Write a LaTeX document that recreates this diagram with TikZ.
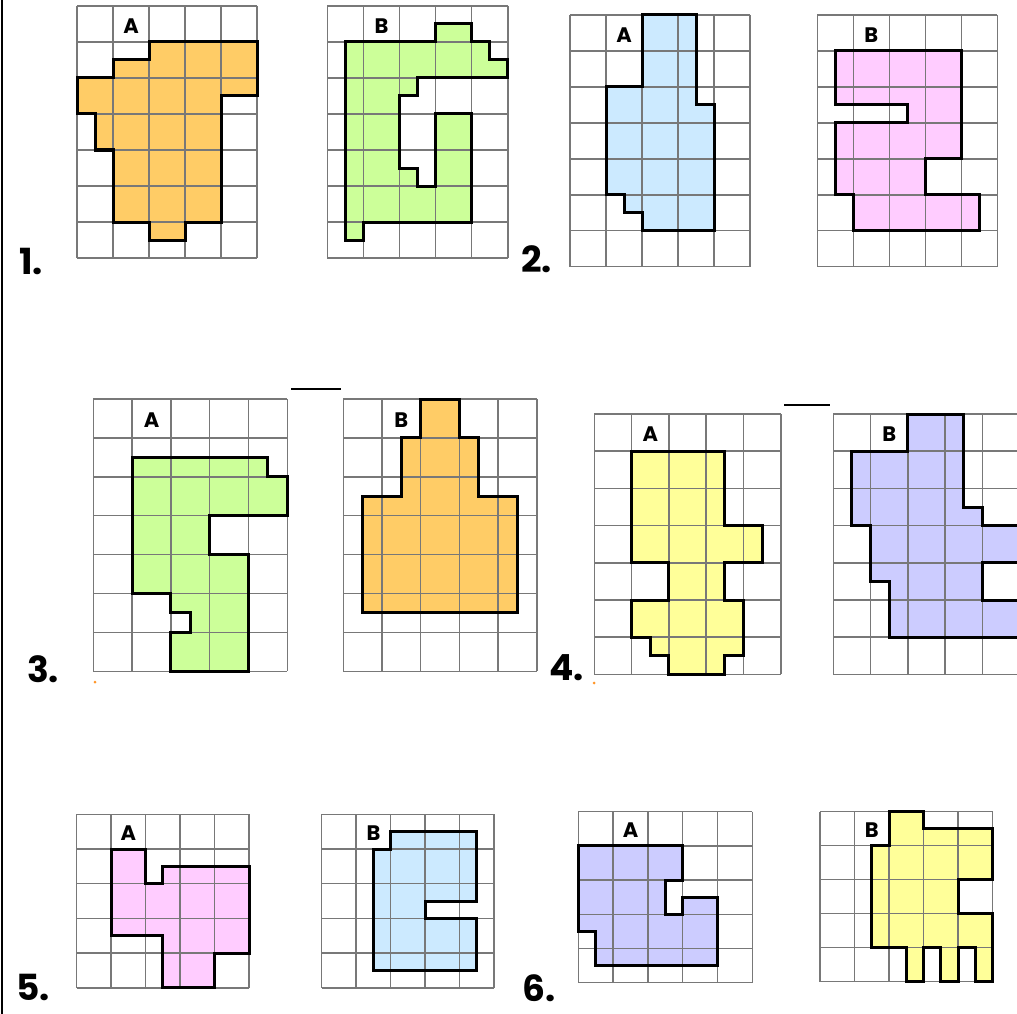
\documentclass[tikz,border=0pt]{standalone}
\usepackage{fontspec}
\setmainfont{Poppins}
\definecolor{corange}{RGB}{255,204,102}
\definecolor{cgreen}{RGB}{204,255,153}
\definecolor{cblue}{RGB}{204,234,255}
\definecolor{cpink}{RGB}{255,204,255}
\definecolor{clav}{RGB}{204,204,255}
\definecolor{cyellow}{RGB}{255,255,153}
\definecolor{cgrid}{RGB}{120,120,120}
\definecolor{cdot}{RGB}{255,150,40}
\tikzset{
  gridl/.style={draw=cgrid,line width=1.5pt},
  outl/.style={draw=black,line width=3pt,line join=miter},
  lab/.style={font=\bfseries\fontsize{21}{21}\selectfont,inner sep=0pt},
  num/.style={font=\bfseries\fontsize{36}{36}\selectfont,inner sep=0pt},
  tick/.style={draw=black,line width=2pt}
}
\begin{document}
\begin{tikzpicture}[x=1pt,y=-1pt]
\useasboundingbox (0,0) rectangle (1017,1014);
\clip (0,0) rectangle (1017,1014);
\fill[white] (0,0) rectangle (1017,1014);
\draw[black,line width=2pt] (1.5,0) -- (1.5,1014);
% 1A
\begin{scope}[shift={(77,6)},x=36pt,y=-36pt]
\fill[corange] (2,1) -- (5,1) -- (5,2.5) -- (4,2.5) -- (4,6) -- (3,6) -- (3,6.5) -- (2,6.5) -- (2,6) -- (1,6) -- (1,4) -- (0.5,4) -- (0.5,3) -- (0,3) -- (0,2) -- (1,2) -- (1,1.5) -- (2,1.5) -- cycle;
\foreach \i in {0,...,5} \draw[gridl] (\i,0) -- (\i,7);
\foreach \j in {0,...,7} \draw[gridl] (0,\j) -- (5,\j);
\draw[outl] (2,1) -- (5,1) -- (5,2.5) -- (4,2.5) -- (4,6) -- (3,6) -- (3,6.5) -- (2,6.5) -- (2,6) -- (1,6) -- (1,4) -- (0.5,4) -- (0.5,3) -- (0,3) -- (0,2) -- (1,2) -- (1,1.5) -- (2,1.5) -- cycle;
\node[lab] (la1) at (1.5,0.55) {A};
\end{scope}
% 1B
\begin{scope}[shift={(327.3,6)},x=36.1pt,y=-36pt]
\fill[cgreen] (0.5,1) -- (3,1) -- (3,0.5) -- (4,0.5) -- (4,1) -- (4.5,1) -- (4.5,1.5) -- (5,1.5) -- (5,2) -- (2.5,2) -- (2.5,2.5) -- (2,2.5) -- (2,4.5) -- (2.5,4.5) -- (2.5,5) -- (3,5) -- (3,3) -- (4,3) -- (4,6) -- (1,6) -- (1,6.5) -- (0.5,6.5) -- cycle;
\foreach \i in {0,...,5} \draw[gridl] (\i,0) -- (\i,7);
\foreach \j in {0,...,7} \draw[gridl] (0,\j) -- (5,\j);
\draw[outl] (0.5,1) -- (3,1) -- (3,0.5) -- (4,0.5) -- (4,1) -- (4.5,1) -- (4.5,1.5) -- (5,1.5) -- (5,2) -- (2.5,2) -- (2.5,2.5) -- (2,2.5) -- (2,4.5) -- (2.5,4.5) -- (2.5,5) -- (3,5) -- (3,3) -- (4,3) -- (4,6) -- (1,6) -- (1,6.5) -- (0.5,6.5) -- cycle;
\node[lab] (lb1) at (1.5,0.55) {B};
\end{scope}
% 2A
\begin{scope}[shift={(570,15)},x=36pt,y=-35.95pt]
\fill[cblue] (2,0) -- (3.5,0) -- (3.5,2.5) -- (4,2.5) -- (4,6) -- (2,6) -- (2,5.5) -- (1.5,5.5) -- (1.5,5) -- (1,5) -- (1,2) -- (2,2) -- cycle;
\foreach \i in {0,...,5} \draw[gridl] (\i,0) -- (\i,7);
\foreach \j in {0,...,7} \draw[gridl] (0,\j) -- (5,\j);
\draw[outl] (2,0) -- (3.5,0) -- (3.5,2.5) -- (4,2.5) -- (4,6) -- (2,6) -- (2,5.5) -- (1.5,5.5) -- (1.5,5) -- (1,5) -- (1,2) -- (2,2) -- cycle;
\node[lab] (la2) at (1.5,0.55) {A};
\end{scope}
% 2B
\begin{scope}[shift={(817.3,15)},x=36pt,y=-35.95pt]
\fill[cpink] (0.5,1) -- (4,1) -- (4,4) -- (3,4) -- (3,5) -- (4.5,5) -- (4.5,6) -- (1,6) -- (1,5) -- (0.5,5) -- (0.5,3) -- (2.5,3) -- (2.5,2.5) -- (0.5,2.5) -- cycle;
\foreach \i in {0,...,5} \draw[gridl] (\i,0) -- (\i,7);
\foreach \j in {0,...,7} \draw[gridl] (0,\j) -- (5,\j);
\draw[outl] (0.5,1) -- (4,1) -- (4,4) -- (3,4) -- (3,5) -- (4.5,5) -- (4.5,6) -- (1,6) -- (1,5) -- (0.5,5) -- (0.5,3) -- (2.5,3) -- (2.5,2.5) -- (0.5,2.5) -- cycle;
\node[lab] (lb2) at (1.5,0.55) {B};
\end{scope}
% 3A
\begin{scope}[shift={(93.3,399)},x=38.8pt,y=-38.9pt]
\fill[cgreen] (1,1.5) -- (4.5,1.5) -- (4.5,2) -- (5,2) -- (5,3) -- (3,3) -- (3,4) -- (4,4) -- (4,7) -- (2,7) -- (2,6) -- (2.5,6) -- (2.5,5.5) -- (2,5.5) -- (2,5) -- (1,5) -- cycle;
\foreach \i in {0,...,5} \draw[gridl] (\i,0) -- (\i,7);
\foreach \j in {0,...,7} \draw[gridl] (0,\j) -- (5,\j);
\draw[outl] (1,1.5) -- (4.5,1.5) -- (4.5,2) -- (5,2) -- (5,3) -- (3,3) -- (3,4) -- (4,4) -- (4,7) -- (2,7) -- (2,6) -- (2.5,6) -- (2.5,5.5) -- (2,5.5) -- (2,5) -- (1,5) -- cycle;
\node[lab] (la3) at (1.5,0.55) {A};
\end{scope}
% 3B
\begin{scope}[shift={(343.3,399)},x=38.7pt,y=-38.9pt]
\fill[corange] (2,0) -- (3,0) -- (3,1) -- (3.5,1) -- (3.5,2.5) -- (4.5,2.5) -- (4.5,5.5) -- (0.5,5.5) -- (0.5,2.5) -- (1.5,2.5) -- (1.5,1) -- (2,1) -- cycle;
\foreach \i in {0,...,5} \draw[gridl] (\i,0) -- (\i,7);
\foreach \j in {0,...,7} \draw[gridl] (0,\j) -- (5,\j);
\draw[outl] (2,0) -- (3,0) -- (3,1) -- (3.5,1) -- (3.5,2.5) -- (4.5,2.5) -- (4.5,5.5) -- (0.5,5.5) -- (0.5,2.5) -- (1.5,2.5) -- (1.5,1) -- (2,1) -- cycle;
\node[lab] (lb3) at (1.5,0.55) {B};
\end{scope}
% 4A
\begin{scope}[shift={(594.3,414)},x=37.3pt,y=-37.2pt]
\fill[cyellow] (1,1) -- (3.5,1) -- (3.5,3) -- (4.5,3) -- (4.5,4) -- (3.5,4) -- (3.5,5) -- (4,5) -- (4,6.5) -- (3.5,6.5) -- (3.5,7) -- (2,7) -- (2,6.5) -- (1.5,6.5) -- (1.5,6) -- (1,6) -- (1,5) -- (2,5) -- (2,4) -- (1,4) -- cycle;
\foreach \i in {0,...,5} \draw[gridl] (\i,0) -- (\i,7);
\foreach \j in {0,...,7} \draw[gridl] (0,\j) -- (5,\j);
\draw[outl] (1,1) -- (3.5,1) -- (3.5,3) -- (4.5,3) -- (4.5,4) -- (3.5,4) -- (3.5,5) -- (4,5) -- (4,6.5) -- (3.5,6.5) -- (3.5,7) -- (2,7) -- (2,6.5) -- (1.5,6.5) -- (1.5,6) -- (1,6) -- (1,5) -- (2,5) -- (2,4) -- (1,4) -- cycle;
\node[lab] (la4) at (1.5,0.55) {A};
\end{scope}
% 4B
\begin{scope}[shift={(833.3,414)},x=37.3pt,y=-37.2pt]
\fill[clav] (2,0) -- (3.5,0) -- (3.5,2.5) -- (4,2.5) -- (4,3) -- (5,3) -- (5,4) -- (4,4) -- (4,5) -- (5,5) -- (5,6) -- (1.5,6) -- (1.5,4.5) -- (1,4.5) -- (1,3) -- (0.5,3) -- (0.5,1) -- (2,1) -- cycle;
\foreach \i in {0,...,5} \draw[gridl] (\i,0) -- (\i,7);
\foreach \j in {0,...,7} \draw[gridl] (0,\j) -- (5,\j);
\draw[outl] (2,0) -- (3.5,0) -- (3.5,2.5) -- (4,2.5) -- (4,3) -- (5,3) -- (5,4) -- (4,4) -- (4,5) -- (5,5) -- (5,6) -- (1.5,6) -- (1.5,4.5) -- (1,4.5) -- (1,3) -- (0.5,3) -- (0.5,1) -- (2,1) -- cycle;
\node[lab] (lb4) at (1.5,0.55) {B};
\end{scope}
% 5A
\begin{scope}[shift={(76.7,814.3)},x=34.5pt,y=-34.7pt]
\fill[cpink] (1,1) -- (2,1) -- (2,2) -- (2.5,2) -- (2.5,1.5) -- (5,1.5) -- (5,4) -- (4,4) -- (4,5) -- (2.5,5) -- (2.5,3.5) -- (1,3.5) -- cycle;
\foreach \i in {0,...,5} \draw[gridl] (\i,0) -- (\i,5);
\foreach \j in {0,...,5} \draw[gridl] (0,\j) -- (5,\j);
\draw[outl] (1,1) -- (2,1) -- (2,2) -- (2.5,2) -- (2.5,1.5) -- (5,1.5) -- (5,4) -- (4,4) -- (4,5) -- (2.5,5) -- (2.5,3.5) -- (1,3.5) -- cycle;
\node[lab] (la5) at (1.5,0.55) {A};
\end{scope}
% 5B
\begin{scope}[shift={(321.7,814.3)},x=34.5pt,y=-34.7pt]
\fill[cblue] (2,0.5) -- (4.5,0.5) -- (4.5,2.5) -- (3,2.5) -- (3,3) -- (4.5,3) -- (4.5,4.5) -- (1.5,4.5) -- (1.5,1) -- (2,1) -- cycle;
\foreach \i in {0,...,5} \draw[gridl] (\i,0) -- (\i,5);
\foreach \j in {0,...,5} \draw[gridl] (0,\j) -- (5,\j);
\draw[outl] (2,0.5) -- (4.5,0.5) -- (4.5,2.5) -- (3,2.5) -- (3,3) -- (4.5,3) -- (4.5,4.5) -- (1.5,4.5) -- (1.5,1) -- (2,1) -- cycle;
\node[lab] (lb5) at (1.5,0.55) {B};
\end{scope}
% 6A
\begin{scope}[shift={(578.3,811.7)},x=34.8pt,y=-34.2pt]
\fill[clav] (0,1) -- (3,1) -- (3,2) -- (2.5,2) -- (2.5,3) -- (3,3) -- (3,2.5) -- (4,2.5) -- (4,4.5) -- (0.5,4.5) -- (0.5,3.5) -- (0,3.5) -- cycle;
\foreach \i in {0,...,5} \draw[gridl] (\i,0) -- (\i,5);
\foreach \j in {0,...,5} \draw[gridl] (0,\j) -- (5,\j);
\draw[outl] (0,1) -- (3,1) -- (3,2) -- (2.5,2) -- (2.5,3) -- (3,3) -- (3,2.5) -- (4,2.5) -- (4,4.5) -- (0.5,4.5) -- (0.5,3.5) -- (0,3.5) -- cycle;
\node[lab] (la6) at (1.5,0.55) {A};
\end{scope}
% 6B
\begin{scope}[shift={(820,811.7)},x=34.5pt,y=-34pt]
\fill[cyellow] (2,0) -- (3,0) -- (3,0.5) -- (5,0.5) -- (5,2) -- (4,2) -- (4,3) -- (5,3) -- (5,5) -- (4.5,5) -- (4.5,4) -- (4,4) -- (4,5) -- (3.5,5) -- (3.5,4) -- (3,4) -- (3,5) -- (2.5,5) -- (2.5,4) -- (1.5,4) -- (1.5,1) -- (2,1) -- cycle;
\foreach \i in {0,...,5} \draw[gridl] (\i,0) -- (\i,5);
\foreach \j in {0,...,5} \draw[gridl] (0,\j) -- (5,\j);
\draw[outl] (2,0) -- (3,0) -- (3,0.5) -- (5,0.5) -- (5,2) -- (4,2) -- (4,3) -- (5,3) -- (5,5) -- (4.5,5) -- (4.5,4) -- (4,4) -- (4,5) -- (3.5,5) -- (3.5,4) -- (3,4) -- (3,5) -- (2.5,5) -- (2.5,4) -- (1.5,4) -- (1.5,1) -- (2,1) -- cycle;
\node[lab] (lb6) at (1.5,0.55) {B};
\end{scope}
% ticks
\coordinate (t1a) at (291,389); \coordinate (t1b) at (341,389);
\draw[tick] (t1a) -- (t1b);
\coordinate (t2a) at (784,405); \coordinate (t2b) at (830,405);
\draw[tick] (t2a) -- (t2b);
\fill[cdot] (95,682) circle (1.5);
\fill[cdot] (594,683) circle (1.5);
% numbers
\node[num,anchor=base west] (n1) at (19,274) {1.};
\node[num,anchor=base west] (n2) at (521,272) {2.};
\node[num,anchor=base west] (n3) at (27,682) {3.};
\node[num,anchor=base west] (n4) at (549,680) {4.};
\node[num,anchor=base west] (n5) at (16,1000) {5.};
\node[num,anchor=base west] (n6) at (522,1001) {6.};
\end{tikzpicture}
\end{document}
